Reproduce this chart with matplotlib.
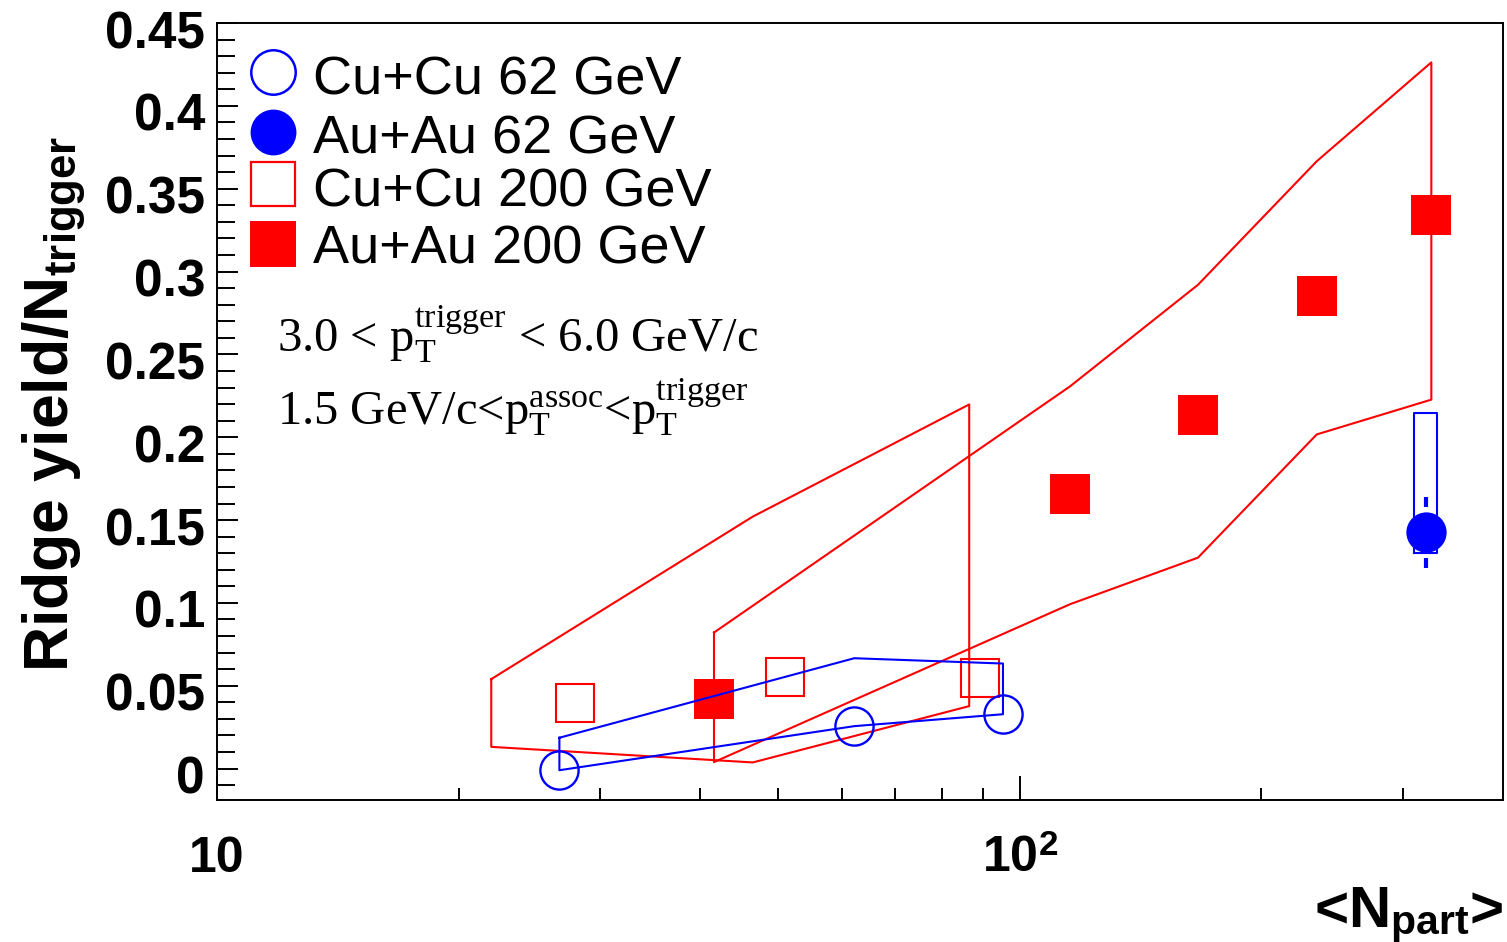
import numpy as np
import matplotlib
matplotlib.use('Agg')
import matplotlib.pyplot as plt
import matplotlib.transforms as mtransforms
from matplotlib.ticker import FixedLocator, MultipleLocator, NullFormatter, FuncFormatter

plt.rcParams['font.family'] = ['Liberation Sans', 'DejaVu Sans']
plt.rcParams['mathtext.fontset'] = 'custom'
plt.rcParams['mathtext.rm'] = 'Liberation Serif'
plt.rcParams['mathtext.it'] = 'Liberation Serif:italic'
plt.rcParams['mathtext.bf'] = 'Liberation Sans:bold'

# Cu+Cu 62 GeV (open circles), band from points up to sys_hi
cucu62_npart = [26.7, 62.2, 95.3]
cucu62_yield = [-0.001, 0.0256, 0.0328]
cucu62_sys_hi = [0.0186, 0.0666, 0.0634]

# Au+Au 62 GeV (filled circle) with stat error and sys box
auau62_npart = [320.6]
auau62_yield = [0.1425]
auau62_err = [0.0215]
auau62_box_npart = [310.0, 331.0]
auau62_box_yield = [0.130, 0.2146]

# Cu+Cu 200 GeV (open squares) + band
cucu200_npart = [27.9, 51.0, 89.3]
cucu200_yield = [0.0395, 0.0553, 0.0549]
cucu200_band_npart = [21.96, 46.5, 86.5]
cucu200_band_hi = [0.0540, 0.1521, 0.2198]
cucu200_band_lo = [0.0131, 0.0037, 0.0377]

# Au+Au 200 GeV (filled squares) + band
auau200_npart = [41.6, 115.5, 166.7, 234.4, 325.6]
auau200_yield = [0.0419, 0.1660, 0.2136, 0.2852, 0.3344]
auau200_band_hi = [0.0821, 0.2307, 0.2920, 0.3666, 0.4263]
auau200_band_lo = [0.0039, 0.0992, 0.1273, 0.2017, 0.2227]

leg_labels = ['Cu+Cu 62 GeV', 'Au+Au 62 GeV', 'Cu+Cu 200 GeV', 'Au+Au 200 GeV']
xtick_vals = [10, 100]
xminor_vals = [20, 30, 40, 50, 60, 70, 80, 90, 200, 300]

BLUE = '#0000ff'
RED = '#ff0000'


def band(x, hi, lo):
    xs = list(x) + list(x[::-1]) + [x[0]]
    ys = list(hi) + list(lo[::-1]) + [hi[0]]
    return xs, ys


fig = plt.figure(figsize=(15.07, 9.42), dpi=100)
ax = fig.add_axes([0.1440, 0.1507, 0.8534, 0.8248])
ax.set_xscale('log')
ax.set_xlim(10, 400)
ax.set_ylim(-0.019, 0.45)

# Au+Au 200
bx, by = band(auau200_npart, auau200_band_hi, auau200_band_lo)
ax.plot(bx, by, color=RED, lw=1.5, zorder=2)
ax.plot(auau200_npart, auau200_yield, 's', ms=28.8, color=RED, mew=0, zorder=3)

# Cu+Cu 200
bx, by = band(cucu200_band_npart, cucu200_band_hi, cucu200_band_lo)
ax.plot(bx, by, color=RED, lw=1.5, zorder=4)
ax.plot(cucu200_npart, cucu200_yield, 's', ms=27.5, mfc='none', mec=RED, mew=1.5, zorder=5)

# Cu+Cu 62
bx, by = band(cucu62_npart, cucu62_sys_hi, cucu62_yield)
ax.plot(bx, by, color=BLUE, lw=1.5, zorder=6)
ax.plot(cucu62_npart, cucu62_yield, 'o', ms=27.5, mfc='none', mec=BLUE, mew=1.7, zorder=7)

# Au+Au 62
x0, x1 = auau62_box_npart
y0, y1 = auau62_box_yield
ax.plot([x0, x1, x1, x0, x0], [y0, y0, y1, y1, y0], color=BLUE, lw=1.5, zorder=6)
gap = 0.0155
for xv, yv, ev in zip(auau62_npart, auau62_yield, auau62_err):
    ax.vlines(xv, yv + gap, yv + ev, color=BLUE, lw=3, zorder=7)
    ax.vlines(xv, yv - ev, yv - gap, color=BLUE, lw=3, zorder=7)
ax.plot(auau62_npart, auau62_yield, 'o', ms=29, color=BLUE, mew=0, zorder=8)

# axes styling (ROOT-like)
for s in ax.spines.values():
    s.set_linewidth(1.4)
ax.xaxis.set_major_locator(FixedLocator(xtick_vals))
ax.xaxis.set_minor_locator(FixedLocator(xminor_vals))
ax.xaxis.set_major_formatter(NullFormatter())
ax.xaxis.set_minor_formatter(NullFormatter())
ax.yaxis.set_major_locator(MultipleLocator(0.05))
ax.yaxis.set_minor_locator(MultipleLocator(0.01))
ax.yaxis.set_major_formatter(FuncFormatter(lambda v, p: '%g' % round(v, 3)))
ax.tick_params(which='both', direction='in', top=False, right=False, width=1.4)
ax.tick_params(axis='x', which='major', length=17)
ax.tick_params(axis='x', which='minor', length=8.6)
ax.tick_params(axis='y', which='major', length=15, pad=8.6)
ax.tick_params(axis='y', which='minor', length=13)
for lab in ax.get_yticklabels():
    lab.set_fontsize(37)
    lab.set_fontweight('bold')
    lab.set_transform(lab.get_transform() +
                      mtransforms.ScaledTranslation(0, -0.06, fig.dpi_scale_trans))

# x tick labels, baseline aligned
trans = mtransforms.blended_transform_factory(ax.transData, ax.transAxes)
for v in xtick_vals:
    p = int(round(np.log10(v)))
    txt = '10' if p == 1 else r'$\mathbf{10}^{\mathbf{%d}}$' % p
    ax.text(v, -0.0927, txt, transform=trans, ha='center', va='baseline',
            fontsize=36, fontweight='bold', clip_on=False)

# axis titles
fig.text(54 / 1507, 1 - 404 / 942, r'Ridge yield/N$_{\mathbf{trigger}}$', rotation=90,
         ha='center', va='center', fontsize=45, fontweight='bold')
fig.text(1503 / 1507, 15 / 942, r'<N$_{\mathbf{part}}$>', ha='right', va='baseline',
         fontsize=42, fontweight='bold')

# legend (drawn by hand, ROOT style)
leg_y = [(800 - py) / 777 for py in (72, 131.7, 184, 243.8)]
leg_base = [(800 - py) / 777 for py in (94, 153, 206, 263)]
leg_style = [
    dict(marker='o', ms=32, mfc='none', mec=BLUE, mew=1.8),
    dict(marker='o', ms=33, color=BLUE, mew=0),
    dict(marker='s', ms=31, mfc='none', mec=RED, mew=1.6),
    dict(marker='s', ms=33, color=RED, mew=0),
]
for lab, yy, yb, st in zip(leg_labels, leg_y, leg_base, leg_style):
    ax.plot([0.0435], [yy], transform=ax.transAxes, clip_on=False, ls='none', **st)
    ax.text(0.0747, yb, lab, transform=ax.transAxes, ha='left', va='baseline',
            fontsize=39)

# kinematic cuts
ax.text(0.0467, 0.5766,
        r'3.0 < $\mathrm{p}_{\mathrm{T}}^{\mathrm{trigger}}$ < 6.0 GeV/c',
        transform=ax.transAxes, ha='left', va='baseline', fontsize=35,
        family='Liberation Serif')
ax.text(0.0467, 0.4826,
        r'1.5 GeV/c<$\mathrm{p}_{\mathrm{T}}^{\mathrm{assoc}}$<$\mathrm{p}_{\mathrm{T}}^{\mathrm{trigger}}$',
        transform=ax.transAxes, ha='left', va='baseline', fontsize=35,
        family='Liberation Serif')

fig.savefig('out.png', dpi=100)
